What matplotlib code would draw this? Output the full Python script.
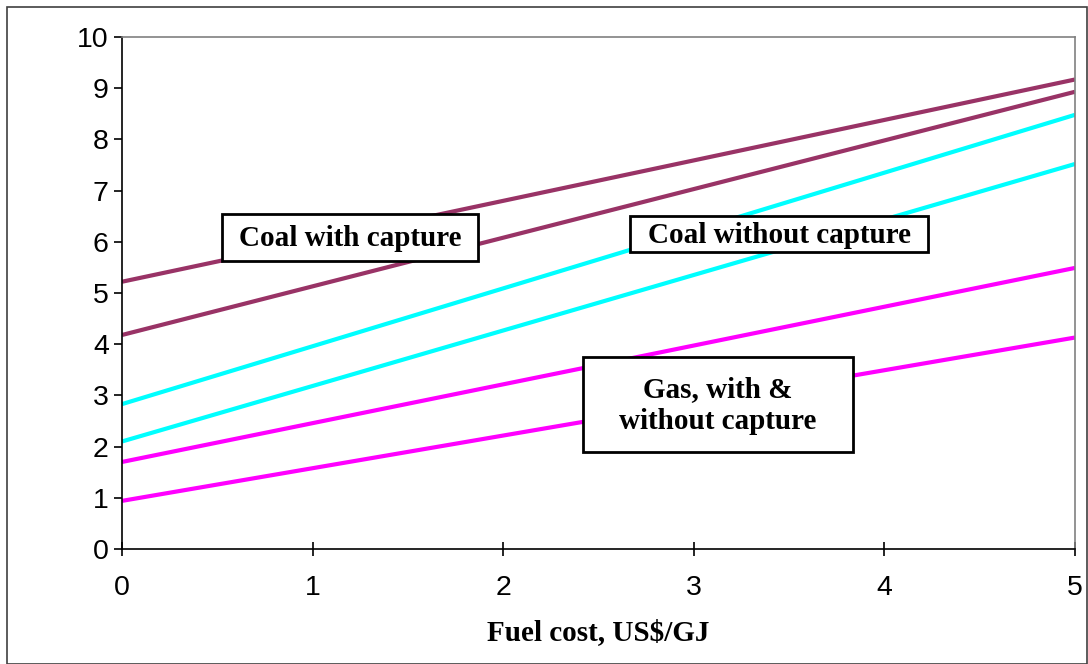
import matplotlib
matplotlib.use("Agg")
import matplotlib.pyplot as plt
from matplotlib.patches import Rectangle

# custo do combustivel (US$/GJ) nos extremos
fuel_cost = [0, 5]

# linhas (valor em 0 e em 5)
coal_capture_a = [5.22, 9.17]
coal_capture_b = [4.18, 8.93]
coal_nocapture_a = [2.83, 8.48]
coal_nocapture_b = [2.10, 7.52]
gas_a = [1.70, 5.49]
gas_b = [0.94, 4.13]

x_ticks = [0, 1, 2, 3, 4, 5]
y_ticks = [0, 1, 2, 3, 4, 5, 6, 7, 8, 9, 10]

coal_color = "#993366"
cyan_color = "#00FFFF"
gas_color = "#FF00FF"

fig = plt.figure(figsize=(10.88, 6.64), dpi=100)
ax = fig.add_axes([122 / 1088, 1 - 549 / 664, (1075 - 122) / 1088, (549 - 37) / 664])

# borda externa da figura
fig.patches.append(Rectangle((7 / 1088, 0), 1 - 7 / 1088 - 0.001, 1 - 7 / 664, transform=fig.transFigure,
                             fill=False, edgecolor="#404040", linewidth=1.2))

for ys, c in [(coal_capture_a, coal_color), (coal_capture_b, coal_color),
              (coal_nocapture_a, cyan_color), (coal_nocapture_b, cyan_color),
              (gas_a, gas_color), (gas_b, gas_color)]:
    ax.plot(fuel_cost, ys, color=c, linewidth=3, solid_capstyle="butt", zorder=2)

ax.set_xlim(0, 5)
ax.set_ylim(0, 10)
ax.set_xticks(x_ticks)
ax.set_yticks(y_ticks)
ax.tick_params(axis="both", labelsize=20.5, colors="black", length=6, width=1.2)
ax.tick_params(axis="x", direction="inout", length=10, pad=14)
for lab in ax.get_xticklabels() + ax.get_yticklabels():
    lab.set_family("Liberation Sans")
for s in ["left", "bottom"]:
    ax.spines[s].set_linewidth(1.2)
for s in ["top", "right"]:
    ax.spines[s].set_color("#808080")
    ax.spines[s].set_linewidth(1.2)

ax.set_xlabel("Fuel cost, US$/GJ", fontsize=21, fontweight="bold", family="Liberation Serif", labelpad=13)

# caixas de texto
def caixa(x0, y0, x1, y1, texto):
    fig.patches.append(Rectangle((x0 / 1088, 1 - y1 / 664), (x1 - x0) / 1088, (y1 - y0) / 664,
                                 transform=fig.transFigure, facecolor="white", edgecolor="black",
                                 linewidth=2, zorder=5))
    fig.text((x0 + x1) / 2 / 1088, 1 - (y0 + y1) / 2 / 664 - 0.002, texto, ha="center", va="center",
             fontsize=21, fontweight="bold", family="Liberation Serif", zorder=6, linespacing=1.25)

caixa(222, 214, 478, 261, "Coal with capture")
caixa(630, 216, 928, 252, "Coal without capture")
caixa(583, 357, 853, 452, "Gas, with &\nwithout capture")

fig.savefig("out.png", dpi=100)
